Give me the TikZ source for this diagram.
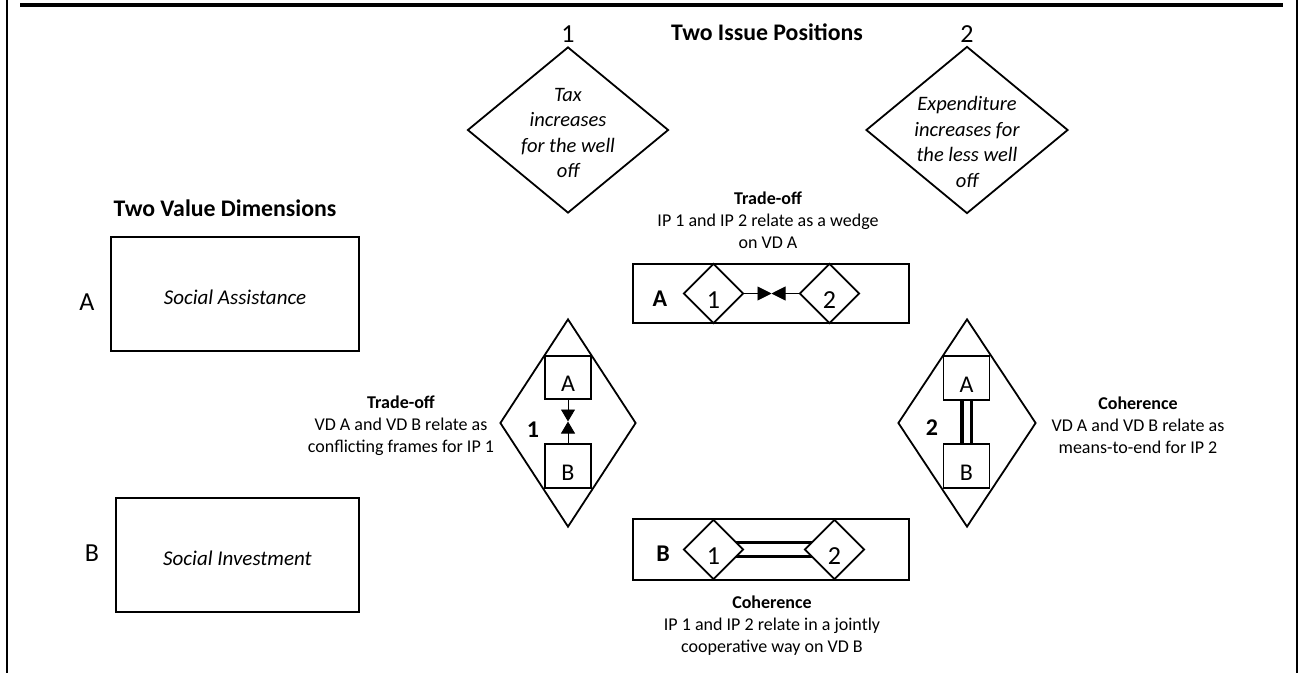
\documentclass[tikz,border=0pt]{standalone}
\usepackage{fontspec}
\setmainfont{Carlito}
\usetikzlibrary{shapes.geometric,arrows.meta,backgrounds,calc}

\begin{document}
\begin{tikzpicture}[x=1pt,y=-1pt,
  frameline/.style={line width=3.2pt},
  sideline/.style={line width=2pt},
  vdbox/.style={draw,line width=1.8pt,rectangle,inner sep=0pt,
    font=\fontsize{21}{25}\selectfont\itshape,text height=21pt,text depth=0pt},
  bigdiam/.style={draw,line width=1.8pt,diamond,inner sep=0pt},
  stripbox/.style={draw,line width=1.8pt,rectangle,inner sep=0pt,
    minimum width=276,minimum height=59},
  smalldiam/.style={draw,line width=1.8pt,diamond,fill=white,inner sep=0pt,
    minimum width=60,minimum height=60,
    font=\fontsize{26}{30}\selectfont,text height=30pt,text depth=0pt},
  sqbox/.style={draw,line width=1.8pt,rectangle,fill=white,inner sep=0pt,
    minimum width=46,minimum height=44,
    font=\fontsize{24}{28}\selectfont,text height=28pt,text depth=0pt},
  biglabel/.style={font=\fontsize{26}{30}\selectfont,inner sep=0pt},
  boldlabel/.style={font=\fontsize{24}{28}\selectfont\bfseries,inner sep=0pt},
  heading/.style={font=\fontsize{23.8}{28}\selectfont\bfseries,inner sep=0pt},
  ipitext/.style={font=\fontsize{20.5}{25.5}\selectfont\itshape,align=center,inner sep=0pt},
  note/.style={font=\fontsize{18}{22}\selectfont,align=center,inner sep=0pt},
  wedge/.style={line width=0.9pt,-{Triangle[length=14pt,width=14pt]}},
  conflict/.style={line width=0.9pt,-{Triangle[length=12pt,width=14pt]}},
  meansend/.style={line width=3.5pt,double=white,double distance=6pt},
  jointly/.style={line width=3pt,double=white,double distance=11pt}]
\useasboundingbox (0,0) rectangle (1298,673);

% outer frame: top rule and two side rules
\coordinate (tl) at (20,5);
\coordinate (tr) at (1283,5);
\draw[frameline] (tl) -- (tr);
\draw[sideline] (7,0) -- (7,673);
\draw[sideline] (1296.5,0) -- (1296.5,673);

% two issue positions
\node[heading] (iphead) at (767,32) {Two Issue Positions};
\node[biglabel] (ip1num) at (568,34) {1};
\node[biglabel] (ip2num) at (967,34) {2};
\node[bigdiam,minimum width=201,minimum height=166] (ip1) at (568,130) {};
\node[bigdiam,minimum width=202,minimum height=167] (ip2) at (967,130) {};
\node[ipitext] (ip1txt) at (568,133) {Tax\\increases\\for the well\\off};
\node[ipitext] (ip2txt) at (967,142) {Expenditure\\increases for\\the less well\\off};

% two value dimensions
\node[heading] (vdhead) at (225,208) {Two Value Dimensions};
\node[vdbox,minimum width=248,minimum height=114] (vdA) at (235,294) {Social Assistance};
\node[vdbox,minimum width=243,minimum height=114] (vdB) at (237.5,555) {Social Investment};
\node[biglabel] (vdAlab) at (87,302) {A};
\node[biglabel] (vdBlab) at (92,553) {B};

% trade-off between the issue positions on VD A
\node[note] (wedgetxt) at (768,220) {\textbf{Trade-off}\\IP 1 and IP 2 relate as a wedge\\on VD A};
\node[stripbox] (stripA) at (771,293.5) {};
\node[boldlabel] (stripAlab) at (660,299) {A};
\node[smalldiam] (sa1) at (713.5,293.5) {1};
\node[smalldiam] (sa2) at (829.5,293.5) {2};
\coordinate (mA) at ($(sa1.east)!0.5!(sa2.west)$);
\draw[wedge] (sa1.east) -- (mA);
\draw[wedge] (sa2.west) -- (mA);

% coherence between the issue positions on VD B
\node[stripbox,minimum height=61] (stripB) at (771,549.5) {};
\node[boldlabel] (stripBlab) at (663,554) {B};
\node[smalldiam] (sb1) at (713.5,549.5) {1};
\node[smalldiam] (sb2) at (834.5,549.5) {2};
\node[note] (jointtxt) at (772,626) {\textbf{Coherence}\\IP 1 and IP 2 relate in a jointly\\cooperative way on VD B};

% trade-off between the value dimensions for IP 1
\node[bigdiam,minimum width=136,minimum height=208] (vd1) at (568,423) {};
\node[sqbox,minimum height=43] (sqA1) at (568,377.5) {A};
\node[sqbox] (sqB1) at (568,466) {B};
\node[boldlabel] (vd1lab) at (533,430) {1};
\coordinate (m1) at ($(sqA1.south)!0.5!(sqB1.north)$);
\draw[conflict] (sqA1.south) -- (m1);
\draw[conflict] (sqB1.north) -- (m1);
\node[note] (conflicttxt) at (401,426) {\textbf{Trade-off}\\VD A and VD B relate as\\conflicting frames for IP 1};

% coherence between the value dimensions for IP 2
\node[bigdiam,minimum width=138,minimum height=208] (vd2) at (967,423) {};
\node[sqbox] (sqA2) at (966.5,378) {A};
\node[sqbox] (sqB2) at (966.5,466) {B};
\node[boldlabel] (vd2lab) at (932,428) {2};
\node[note] (meanstxt) at (1138,425) {\textbf{Coherence}\\VD A and VD B relate as\\means-to-end for IP 2};

% double links drawn underneath the boxes
\begin{scope}[on background layer]
  \draw[meansend] (sqA2.center) -- (sqB2.center);
  \draw[jointly] (sb1.center) -- (sb2.center);
\end{scope}
\end{tikzpicture}
\end{document}
